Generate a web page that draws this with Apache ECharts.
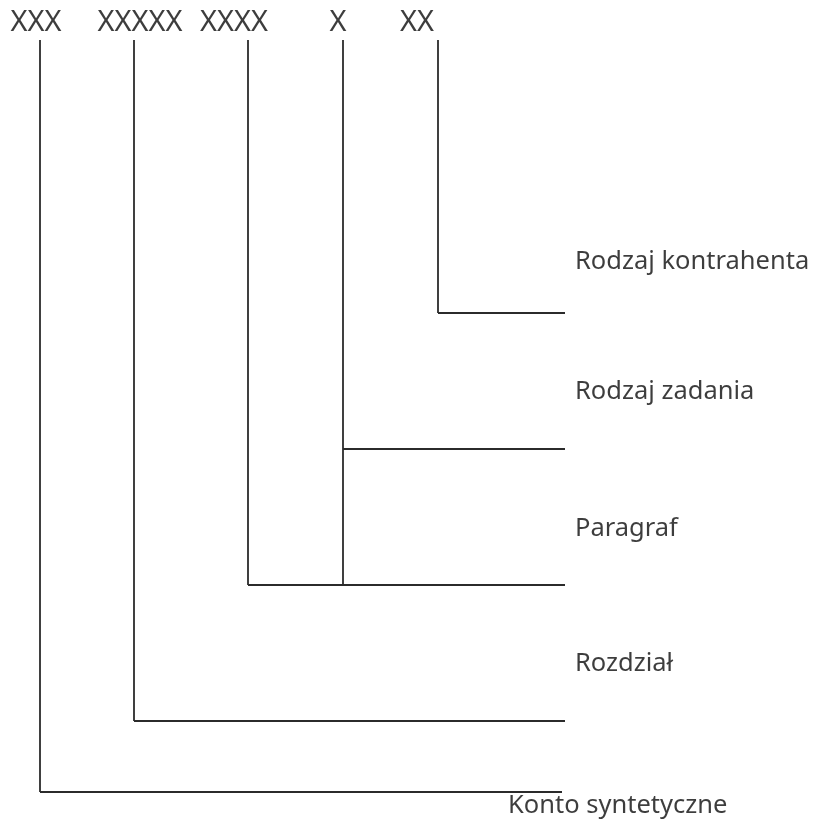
<!DOCTYPE html>
<html>
<head>
<meta charset="utf-8">
<script src="https://cdn.jsdelivr.net/npm/echarts@6/dist/echarts.min.js"></script>
<style>
  html, body { margin: 0; padding: 0; background: #fff; }
  #chart { width: 814px; height: 825px; }
</style>
</head>
<body>
<div id="chart"></div>
<script>
// segments of the account number, left to right
const codes = ["XXX", "XXXXX", "XXXX", "X", "XX"]
const codeLabelX = [36, 140, 234, 338, 417]
const codeStemX = [40, 134, 248, 343, 438]
// where each stem turns right, and where it stops
const levelY = [792, 721, 585, 449, 313]
const stemBottom = [792, 721, 585, 585, 313]
const lineEnd = [562, 565, 565, 565, 565]
// descriptions
const names = ["Konto syntetyczne", "Rozdział", "Paragraf", "Rodzaj zadania", "Rodzaj kontrahenta"]
const nameX = [508, 575, 575, 575, 575]
const nameY = [806, 664, 529, 392, 262]
const stemTop = 40
const codeY = 23

let myChart = echarts.init(document.getElementById("chart"))

let series = []
codes.forEach((c, i) => {
  series.push({
    name: c,
    type: "line",
    symbol: "none",
    silent: true,
    lineStyle: { color: "#2b2b2b", width: 1.8, join: "miter" },
    data: [[codeStemX[i], stemTop], [codeStemX[i], stemBottom[i]]],
  })
  series.push({
    name: c + "-branch",
    type: "line",
    symbol: "none",
    silent: true,
    lineStyle: { color: "#2b2b2b", width: 1.8 },
    data: [[codeStemX[i], levelY[i]], [lineEnd[i], levelY[i]]],
  })
})

series.push({
  type: "scatter",
  symbolSize: 0,
  silent: true,
  label: {
    show: true,
    position: "inside",
    formatter: (p) => p.data[2],
    color: "#0d0d0d",
    fontFamily: "Noto Sans",
    fontSize: 29,
  },
  data: codes.map((c, i) => [codeLabelX[i], codeY, c]),
})

series.push({
  type: "scatter",
  symbolSize: 0,
  silent: true,
  label: {
    show: true,
    position: "inside",
    align: "left",
    formatter: (p) => p.data[2],
    color: "#0d0d0d",
    fontFamily: "Noto Sans",
    fontSize: 25.5,
  },
  data: names.map((n, i) => [nameX[i], nameY[i], n]),
})

myChart.setOption({
  animation: false,
  grid: { left: 0, right: 0, top: 0, bottom: 0 },
  xAxis: { type: "value", min: 0, max: 814, show: false },
  yAxis: { type: "value", min: 0, max: 825, inverse: true, show: false },
  series: series,
})
</script>
</body>
</html>
